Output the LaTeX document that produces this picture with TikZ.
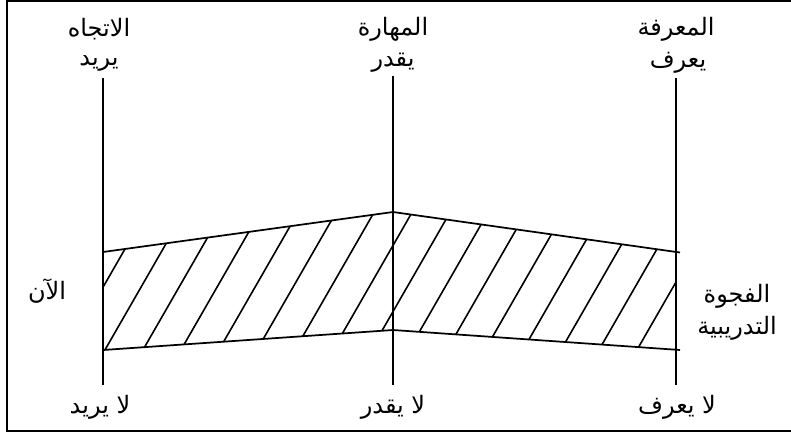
\documentclass[tikz,border=0pt]{standalone}
\usepackage{fontspec}
\newfontfamily\arabicfont[Script=Arabic]{DejaVu Sans}
\TeXXeTstate=1
\usetikzlibrary{positioning}
\newcommand{\artext}[1]{\beginR #1\endR}

\begin{document}
\begin{tikzpicture}[x=0.75pt, y=-0.75pt, line width=1.3pt,
        lbl/.style = {font=\arabicfont\fontsize{18}{20}\selectfont, inner sep=1pt},
        hatch/.style = {line width=1.2pt}]
            \useasboundingbox (0,0) rectangle (791,433);
            \draw[line width=1.6pt] (792,1) -- (7,1) -- (7,431) -- (792,431);

            \coordinate (Atop) at (103,78);
            \coordinate (Abot) at (103,385);
            \coordinate (Mtop) at (393,76);
            \coordinate (Mbot) at (393,385);
            \coordinate (Ktop) at (676,78);
            \coordinate (Kbot) at (676,385);

            \coordinate (Aup) at (103,252);
            \coordinate (Mup) at (393,212);
            \coordinate (Kup) at (676,252);
            \coordinate (Kupend) at (680,252.5);
            \coordinate (Alow) at (103,350);
            \coordinate (Mlow) at (393,330);
            \coordinate (Klow) at (676,350);
            \coordinate (Klowend) at (680,350);

            \node[lbl] (attTitle) at (99,29) {\artext{الاتجاه}};
            \node[lbl] (attYes) at (99,63) {\artext{يريد}};
            \node[lbl] (attNo) at (100,407) {\artext{لا يريد}};

            \node[lbl] (sklTitle) at (393,29) {\artext{المهارة}};
            \node[lbl] (sklYes) at (393,63) {\artext{يقدر}};
            \node[lbl] (sklNo) at (393,407) {\artext{لا يقدر}};

            \node[lbl] (knwTitle) at (676,29) {\artext{المعرفة}};
            \node[lbl] (knwYes) at (678,63) {\artext{يعرف}};
            \node[lbl] (knwNo) at (677,407) {\artext{لا يعرف}};

            \node[lbl] (now) at (47,291) {\artext{الآن}};
            \node[lbl] (gap) at (737,296) {\artext{الفجوة}};
            \node[lbl] (training) at (737,328) {\artext{التدريبية}};

            \draw (Atop) -- (Abot);
            \draw (Mtop) -- (Mbot);
            \draw (Ktop) -- (Kbot);

            \draw (Aup) -- (Mup) -- (Kupend);
            \draw (Alow) -- (Mlow) -- (Klowend);

            % hatching of the gap
            \begin{scope}
                \clip (Aup) -- (Mup) -- (Kup) -- (Klow) -- (Mlow) -- (Alow) -- cycle;
                \foreach \x in {22,60,...,700}
                    \draw[hatch] (\x,362) -- ++(92,-160);
            \end{scope}
        \end{tikzpicture}
\end{document}
